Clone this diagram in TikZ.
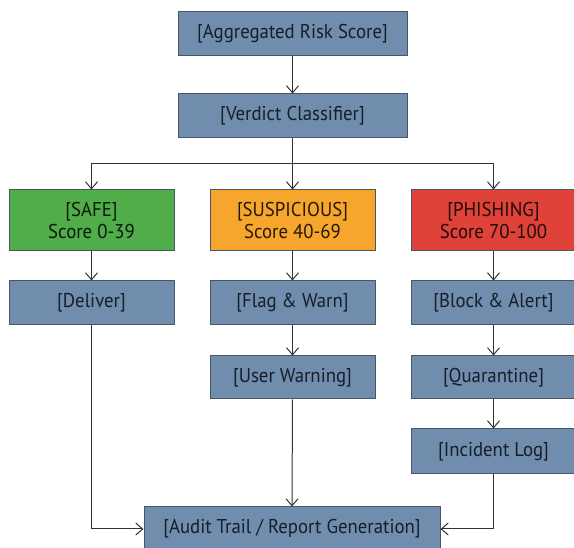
\documentclass[tikz,border=0pt]{standalone}
\usepackage{fontspec}
\setmainfont[FakeStretch=0.94]{PT Sans}
\usetikzlibrary{arrows.meta}
\definecolor{boxblue}{RGB}{112,141,174}
\definecolor{boxedge}{RGB}{72,86,104}
\definecolor{safegreen}{RGB}{80,173,74}
\definecolor{suspamber}{RGB}{246,166,44}
\definecolor{phishred}{RGB}{222,66,56}
\definecolor{linkgray}{RGB}{50,50,50}
\definecolor{inkdark}{RGB}{22,30,40}
\tikzset{
  x=1pt, y=-1pt,
  procbox/.style={draw=boxedge, line width=1pt, fill=boxblue, text=inkdark,
    inner sep=0pt, minimum height=44pt, font=\fontsize{20}{22}\selectfont,
    align=center},
  verdictbox/.style={procbox, minimum width=165pt, minimum height=61pt,
    text opacity=0.85, text=black},
  link/.style={draw=linkgray, line width=1pt,
    -{Straight Barb[length=7pt,width=12pt]}},
  plainlink/.style={draw=linkgray, line width=1pt}
}
\begin{document}
\begin{tikzpicture}
\useasboundingbox (0,0) rectangle (574,548);
\clip (0,0) rectangle (574,548);
\fill[white] (0,0) rectangle (574,548);

% top of the pipeline
\node[procbox, minimum width=229pt] (agg) at (292.5,34) {[Aggregated Risk Score]};
\node[procbox, minimum width=229pt] (ver) at (292.5,116) {[Verdict Classifier]};
\coordinate (split) at (292.5,164);

% verdict categories
\node[verdictbox, fill=safegreen] (safe) at (91.5,220.5) {[SAFE]\\Score 0-39};
\node[verdictbox, fill=suspamber] (susp) at (292.5,220.5) {[SUSPICIOUS]\\Score 40-69};
\node[verdictbox, fill=phishred] (phish) at (493.5,220.5) {[PHISHING]\\Score 70-100};

% actions per verdict
\node[procbox, minimum width=165pt] (deliver) at (91.5,303) {[Deliver]};
\node[procbox, minimum width=165pt] (flag) at (292.5,303) {[Flag \& Warn]};
\node[procbox, minimum width=165pt] (block) at (493.5,303) {[Block \& Alert]};
\node[procbox, minimum width=165pt, minimum height=43pt] (userw) at (292.5,377.5) {[User Warning]};
\node[procbox, minimum width=165pt, minimum height=43pt] (quar) at (493.5,377.5) {[Quarantine]};
\node[procbox, minimum width=165pt, minimum height=45pt] (inc) at (493.5,451.5) {[Incident Log]};

% final sink
\node[procbox, minimum width=296pt] (audit) at (292,529) {[Audit Trail / Report Generation]};

% connectors
\draw[link] (agg) -- (ver);
\draw[plainlink] (ver.south) -- (split);
\draw[link] (split) -| (safe.north);
\draw[link] (split) -- (susp.north);
\draw[link] (split) -| (phish.north);
\draw[link] (safe) -- (deliver);
\draw[link] (susp) -- (flag);
\draw[link] (phish) -- (block);
\draw[link] (flag) -- (userw);
\draw[link] (block) -- (quar);
\draw[link] (quar) -- (inc);
\draw[link] (deliver.south) |- (audit.west);
\draw[link] (userw.south) -- (audit.north);
\draw[link] (inc.south) |- (audit.east);
\end{tikzpicture}
\end{document}
